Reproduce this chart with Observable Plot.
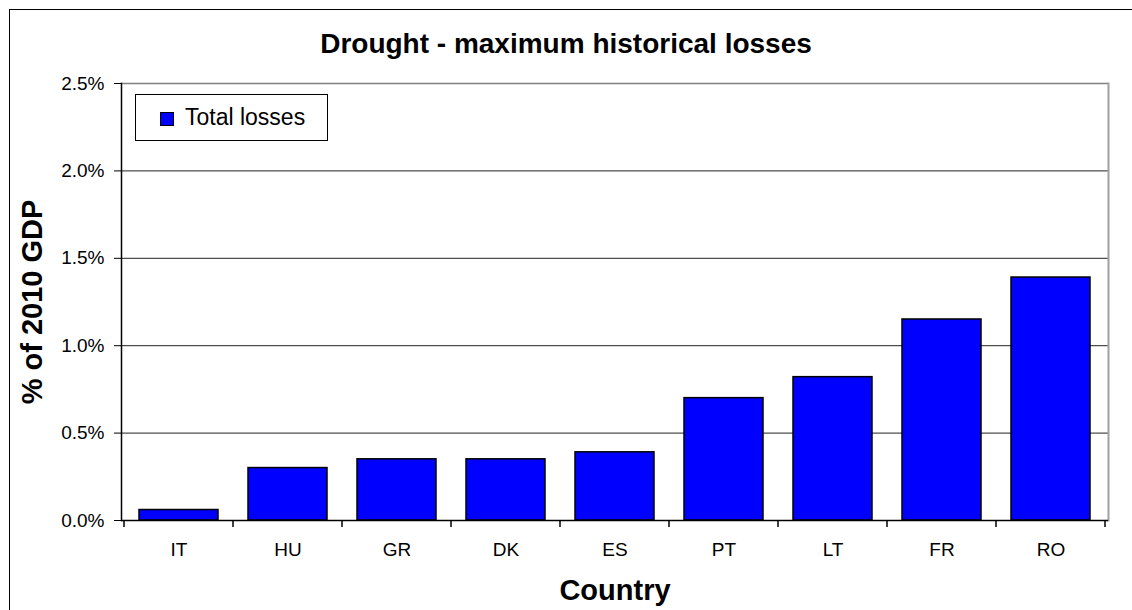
<!DOCTYPE html>
<html><head><meta charset="utf-8">
<script src="https://cdn.jsdelivr.net/npm/d3@7"></script>
<script src="https://cdn.jsdelivr.net/npm/@observablehq/plot@0.6"></script>
<style>
html,body{margin:0;padding:0;background:#fff;overflow:hidden;}
#wrap{position:relative;width:1132px;height:610px;overflow:hidden;font-family:"Liberation Sans",Arial,sans-serif;color:#000;}
#frame{position:absolute;left:9px;top:9px;width:1200px;height:700px;border:1.5px solid #000;}
#title{position:absolute;left:0;top:30px;width:1132px;text-align:center;font-weight:bold;font-size:28px;line-height:28px;}
#chart{position:absolute;left:0;top:0;}
#legend{position:absolute;left:135px;top:94px;width:193px;height:47px;border:1px solid #000;background:#fff;box-sizing:border-box;}
#swatch{position:absolute;left:24px;top:17px;width:14px;height:14px;background:#0000ff;border:1px solid #000;box-sizing:border-box;}
#ltext{position:absolute;left:49px;top:10.5px;font-size:23px;line-height:23px;white-space:nowrap;}
</style>
</head><body>
<div id="wrap">
  <div id="frame"></div>
  <div id="chart"></div>
  <div id="title">Drought - maximum historical losses</div>
  <div id="legend"><div id="swatch"></div><span id="ltext">Total losses</span></div>
</div>
<script>
const countries = ["IT","HU","GR","DK","ES","PT","LT","FR","RO"];
const losses = [0.06, 0.30, 0.35, 0.35, 0.39, 0.70, 0.82, 1.15, 1.39];
const yTicks = [0, 0.5, 1.0, 1.5, 2.0, 2.5];
const yLabel = "% of 2010 GDP";
const xLabel = "Country";

const data = countries.map((c, i) => ({country: c, value: losses[i]}));

const chart = Plot.plot({
  width: 1132, height: 610,
  marginLeft: 121, marginRight: 24, marginTop: 83, marginBottom: 90,
  style: {fontFamily: "'Liberation Sans', Arial, sans-serif", fontSize: "19px", color: "#000", background: "transparent", overflow: "visible"},
  x: {domain: countries, padding: 0, label: null},
  y: {domain: [0, 2.5], label: null},
  marks: [
    Plot.ruleY(yTicks.filter(d => d > 0 && d < 2.5), {stroke: "#222", strokeWidth: 1}),
    Plot.ruleY([2.5], {stroke: "#808080", strokeWidth: 1.5}),
    Plot.frame({anchor: "right", stroke: "#a0a0a0", strokeWidth: 2}),
    Plot.barY(data, {x: "country", y: "value", fill: "#0000ff", stroke: "#000", strokeWidth: 1.5, insetLeft: 15, insetRight: 15}),
    Plot.axisY({ticks: yTicks, tickFormat: d => d.toFixed(1) + "%", tickSize: 7, tickPadding: 10, label: null, stroke: "#000", fontSize: 19}),
    Plot.axisX({tickSize: 0, tickPadding: 22, label: null, fontSize: 19}),
    Plot.ruleY([0], {stroke: "#000", strokeWidth: 1.5}),
    Plot.frame({anchor: "left", stroke: "#000", strokeWidth: 1.5}),
    Plot.text([yLabel], {frameAnchor: "left", dx: -89, rotate: -90, fontSize: 29, fontWeight: "bold", textAnchor: "middle", lineAnchor: "middle"}),
    Plot.text([xLabel], {frameAnchor: "bottom", dy: 70, fontSize: 29, fontWeight: "bold", textAnchor: "middle", lineAnchor: "middle"})
  ]
});

// category boundary tick marks below the x axis, placed via the plot's x scale
const xs = chart.scale("x");
const yS = chart.scale("y");
const y0 = yS.apply(0);
const bounds = countries.map(c => xs.apply(c)).concat([xs.apply(countries[countries.length - 1]) + xs.bandwidth]);
d3.select(chart).append("g")
  .selectAll("line").data(bounds).join("line")
  .attr("x1", d => d).attr("x2", d => d)
  .attr("y1", y0).attr("y2", y0 + 7)
  .attr("stroke", "#000").attr("stroke-width", 1.5);

document.getElementById("chart").appendChild(chart);
</script>
</body></html>
